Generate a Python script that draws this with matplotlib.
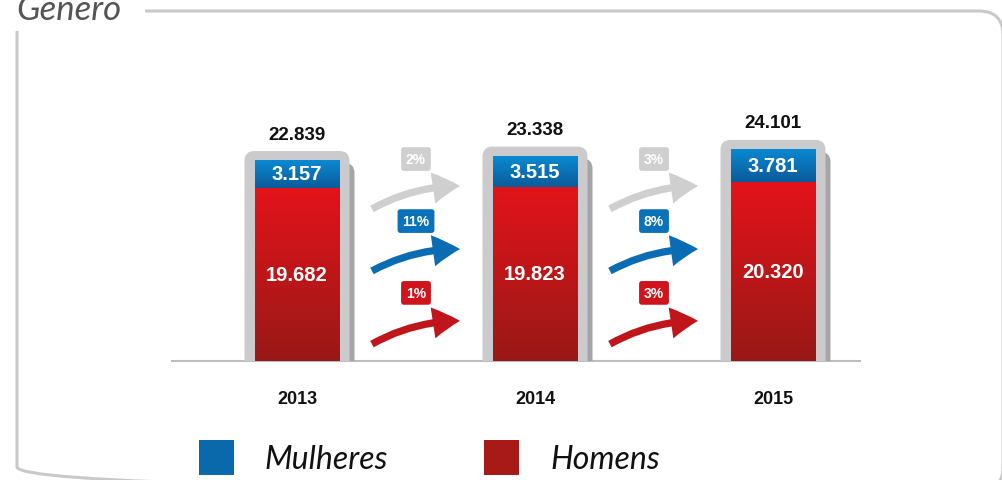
import numpy as np
import matplotlib
matplotlib.use("Agg")
import matplotlib.pyplot as plt
from matplotlib.patches import FancyBboxPatch, FancyArrowPatch, Rectangle
from matplotlib.colors import LinearSegmentedColormap

# data
anos = ["2013", "2014", "2015"]
homens = [19682, 19823, 20320]
mulheres = [3157, 3515, 3781]
totais = [22839, 23338, 24101]
var_total = ["2%", "3%"]
var_mulheres = ["11%", "8%"]
var_homens = ["1%", "3%"]

def fmt(v):
    return f"{v:,}".replace(",", ".")

W, H = 1002, 481
fig = plt.figure(figsize=(W / 100, H / 100), dpi=100)
fig.patch.set_facecolor("white")

# background layer in pixel coords (frame, title, legend)
bg = fig.add_axes([0, 0, 1, 1], zorder=0)
bg.set_xlim(0, W)
bg.set_ylim(H, 0)
bg.axis("off")
border = FancyBboxPatch((17, 12), 986, 480, boxstyle="round,pad=0,rounding_size=24",
                        fc="none", ec="#c9c9c9", lw=2.2)
bg.add_patch(border)
bg.add_patch(Rectangle((0, 0), 145, 32, fc="white", ec="none", zorder=3))
bg.text(16, 20, "Gênero", fontsize=25, style="italic",
        family=["Lato", "DejaVu Sans"], color="#555555", va="baseline", zorder=4)

# legend
bg.add_patch(Rectangle((199, 441), 35, 35, fc="#0a69aa", ec="none"))
bg.add_patch(Rectangle((484, 441), 35, 35, fc="#a81a17", ec="none"))
bg.text(264, 460, "Mulheres", fontsize=23, style="italic",
        family=["Lato", "DejaVu Sans"], color="#111111", va="center")
bg.text(550, 460, "Homens", fontsize=23, style="italic",
        family=["Lato", "DejaVu Sans"], color="#111111", va="center")

# bar axes
ax = fig.add_axes([178 / W, 119 / H, 714 / W, 264 / H], zorder=1)
ax.patch.set_alpha(0)
ax.axis("off")
XMIN, XMAX, YMAX = -0.5, 2.5, 30000
px_x = 714 / (XMAX - XMIN)
px_y = 264 / YMAX

x = np.arange(len(anos))
bw = 85 / px_x
padx = 10 / px_x
aspect = px_x / px_y


def gradient(patch, top, bottom):
    x0, y0 = patch.get_x(), patch.get_y()
    w, h = patch.get_width(), patch.get_height()
    cmap = LinearSegmentedColormap.from_list("g", [bottom, top])
    grad = np.linspace(0, 1, 256).reshape(-1, 1)
    im = ax.imshow(grad, cmap=cmap, extent=[x0, x0 + w, y0, y0 + h], origin="lower",
                   aspect="auto", zorder=3, interpolation="bilinear")
    im.set_clip_path(patch)
    patch.set_facecolor("none")


for i in range(len(anos)):
    top = totais[i] + 9 / px_y
    # shadow
    sh = FancyBboxPatch((x[i] - bw / 2 - padx + 5 / px_x, -3000), bw + 2 * padx,
                        top - 12 / px_y + 3000,
                        boxstyle="round,pad=0,rounding_size=%f" % (10 / px_x),
                        mutation_aspect=aspect, fc="#a5a5a7", ec="none", zorder=1)
    ax.add_patch(sh)
    fr = FancyBboxPatch((x[i] - bw / 2 - padx, -3000), bw + 2 * padx, top + 3000,
                        boxstyle="round,pad=0,rounding_size=%f" % (10 / px_x),
                        mutation_aspect=aspect, fc="#cbcbcd", ec="none", zorder=2)
    ax.add_patch(fr)

b_h = ax.bar(x, homens, width=bw, color="#d0151b", zorder=3)
b_m = ax.bar(x, mulheres, width=bw, bottom=homens, color="#0a7cc0", zorder=3)
for p in b_h:
    gradient(p, "#e3131b", "#981916")
for p in b_m:
    gradient(p, "#0a8ad2", "#0a5b9b")

for i in range(len(anos)):
    ax.text(x[i], totais[i] + 26 / px_y, fmt(totais[i]), ha="center", va="center",
            fontsize=13.5, fontweight="bold", family="Liberation Sans", color="#111111")
    ax.text(x[i], homens[i] + mulheres[i] / 2, fmt(mulheres[i]), ha="center", va="center",
            fontsize=14.5, fontweight="bold", family="Liberation Sans", color="white", zorder=5)
    ax.text(x[i], homens[i] / 2, fmt(homens[i]), ha="center", va="center",
            fontsize=14.5, fontweight="bold", family="Liberation Sans", color="white", zorder=5)
    ax.text(x[i], -38 / px_y, anos[i], ha="center", va="center",
            fontsize=13, fontweight="bold", family="Liberation Sans", color="#111111")

ax.plot([-0.525, 2.366], [0, 0], color="#bdbdbd", lw=1.5, clip_on=False, zorder=0)

# growth arrows between bars (y in axes fraction)
ty = ax.get_xaxis_transform()
rows = [(var_total, "#cfcfcf", "#cfcfcf", 0.765, 0.576, 0.663),
        (var_mulheres, "#0a72b8", "#0a6db3", 0.530, 0.341, 0.424),
        (var_homens, "#d0141b", "#c0151a", 0.258, 0.064, 0.152)]
for vals, badge_c, arrow_c, yb, ya, yt in rows:
    for i, v in enumerate(vals):
        xm = x[i] + 0.5
        ax.text(xm, yb, v, transform=ty, ha="center", va="center", fontsize=10,
                fontweight="bold", family="Liberation Sans", color="white",
                bbox=dict(boxstyle="round,pad=0.35,rounding_size=0.2", fc=badge_c, ec="none"))
        arr = FancyArrowPatch((x[i] + 0.315, ya), (x[i] + 0.685, yt), transform=ty,
                              connectionstyle="arc3,rad=-0.13",
                              arrowstyle="simple,head_length=1.3,head_width=1.5,tail_width=0.35",
                              mutation_scale=15, fc=arrow_c, ec="none",
                              shrinkA=0, shrinkB=0, clip_on=False)
        ax.add_patch(arr)

ax.set_xlim(XMIN, XMAX)
ax.set_ylim(0, YMAX)

fig.savefig("out.png", dpi=100)
